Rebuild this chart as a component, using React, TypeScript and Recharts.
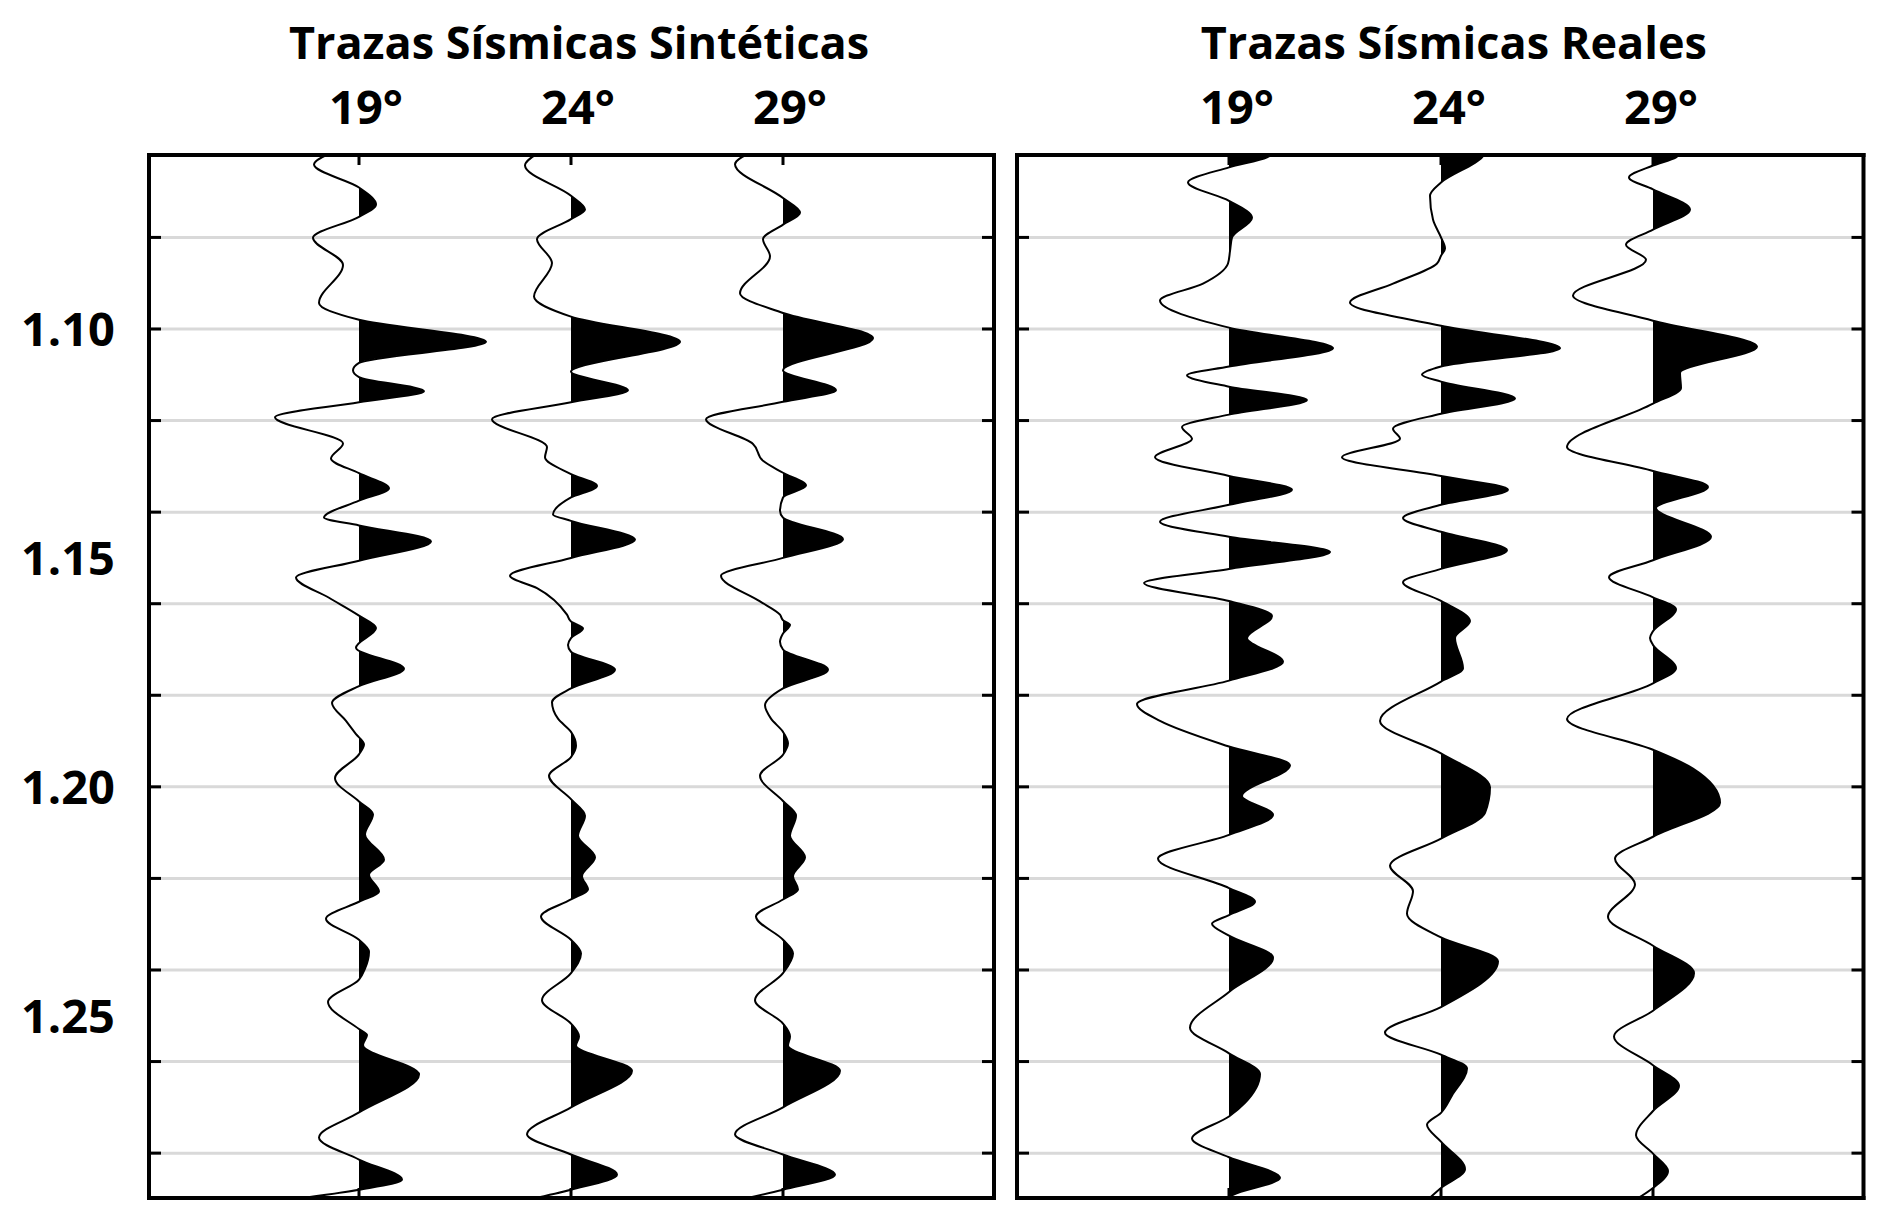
import React from 'react';
import { ComposedChart, Line, Area, XAxis, YAxis, CartesianGrid, ReferenceArea } from 'recharts';

type Pt = [number, number];

// time axis (s), grid every 20 ms
const timeDomain: [number, number] = [1.062, 1.2898];
const gridTimes = [1.08, 1.1, 1.12, 1.14, 1.16, 1.18, 1.2, 1.22, 1.24, 1.26, 1.28];
const timeLabels = [1.1, 1.15, 1.2, 1.25];
const leftAxisTicks = [1.08, 1.1, 1.12, 1.14, 1.15, 1.16, 1.18, 1.2, 1.22, 1.24, 1.25, 1.26, 1.28];
const angleLabels = ['19°', '24°', '29°'];

// [time, amplitude] (positive = right, filled)
const synth19: Pt[] = [
  [1.061, -0.22], [1.0641, -0.45], [1.0691, 0], [1.0728, 0.17], [1.0755, 0], [1.0801, -0.46],
  [1.086, -0.16], [1.0943, -0.4], [1.098, 0], [1.1028, 1.27], [1.1074, 0], [1.109, -0.06],
  [1.1105, 0], [1.1136, 0.65], [1.116, 0], [1.1193, -0.84], [1.125, -0.16], [1.1283, -0.28],
  [1.1315, 0], [1.1348, 0.3], [1.1375, 0], [1.1412, -0.35], [1.1429, 0], [1.1464, 0.72],
  [1.1506, 0], [1.1543, -0.63], [1.1587, -0.3], [1.1626, 0], [1.1653, 0.17], [1.1696, -0.03],
  [1.1742, 0.45], [1.178, 0], [1.1817, -0.27], [1.1856, -0.13], [1.1885, -0.03], [1.1907, 0.05],
  [1.1929, 0], [1.1981, -0.24], [1.2032, 0], [1.206, 0.14], [1.2104, 0.06], [1.2159, 0.25],
  [1.2192, 0.1], [1.2229, 0.2], [1.2251, 0], [1.2288, -0.33], [1.2334, 0], [1.236, 0.1],
  [1.2397, 0.06], [1.2421, 0], [1.247, -0.31], [1.2529, 0], [1.2542, 0.08], [1.2564, 0.04],
  [1.2628, 0.6], [1.2711, 0], [1.2766, -0.4], [1.2814, 0], [1.2858, 0.43], [1.288, 0],
  [1.2902, -0.7],
];
const synth24: Pt[] = [
  [1.0612, -0.3], [1.0643, -0.46], [1.0709, 0], [1.0739, 0.14], [1.076, 0], [1.0804, -0.34],
  [1.0856, -0.19], [1.0929, -0.37], [1.0973, 0], [1.1028, 1.09], [1.1093, 0], [1.1134, 0.57],
  [1.116, 0], [1.1197, -0.79], [1.1258, -0.24], [1.128, -0.26], [1.1317, 0], [1.1343, 0.26],
  [1.1368, 0], [1.1405, -0.18], [1.1419, 0], [1.146, 0.64], [1.15, 0], [1.1539, -0.61],
  [1.1566, -0.34], [1.1624, -0.04], [1.1639, 0], [1.1654, 0.12], [1.1675, 0], [1.169, -0.03],
  [1.1705, 0], [1.1744, 0.44], [1.1785, 0], [1.1815, -0.19], [1.1851, -0.13], [1.188, 0],
  [1.191, 0.05], [1.1935, 0], [1.1976, -0.22], [1.2027, 0], [1.2063, 0.14], [1.2107, 0.07],
  [1.2154, 0.24], [1.2195, 0.11], [1.2224, 0.17], [1.2246, 0], [1.2283, -0.3], [1.2334, 0],
  [1.2364, 0.1], [1.2407, 0], [1.2466, -0.29], [1.2517, 0], [1.2545, 0.08], [1.2565, 0.05],
  [1.262, 0.61], [1.27, 0], [1.2759, -0.44], [1.2803, 0], [1.2847, 0.46], [1.288, 0],
  [1.2905, -0.5],
];
const synth29: Pt[] = [
  [1.0612, -0.3], [1.064, -0.48], [1.0714, 0], [1.0746, 0.17], [1.0772, 0], [1.0804, -0.2],
  [1.0841, -0.13], [1.0922, -0.43], [1.0965, 0], [1.102, 0.9], [1.109, 0], [1.1134, 0.53],
  [1.1159, 0], [1.1197, -0.77], [1.1251, -0.3], [1.1288, -0.2], [1.1314, 0], [1.1342, 0.23],
  [1.1368, 0], [1.1397, -0.03], [1.1412, 0], [1.1459, 0.6], [1.15, 0], [1.1539, -0.62],
  [1.1595, -0.23], [1.1624, -0.03], [1.1636, 0], [1.1646, 0.07], [1.1665, 0], [1.1683, -0.03],
  [1.17, 0], [1.1744, 0.45], [1.1785, 0], [1.1822, -0.18], [1.1851, -0.12], [1.188, 0],
  [1.1905, 0.05], [1.193, 0], [1.1976, -0.23], [1.2031, 0], [1.2063, 0.13], [1.2107, 0.07],
  [1.2154, 0.22], [1.2195, 0.1], [1.2224, 0.15], [1.2246, 0], [1.2283, -0.27], [1.2334, 0],
  [1.2364, 0.1], [1.2407, 0], [1.2466, -0.28], [1.2517, 0], [1.2545, 0.07], [1.2565, 0.05],
  [1.262, 0.57], [1.27, 0], [1.2759, -0.48], [1.2803, 0], [1.2847, 0.52], [1.288, 0],
  [1.2905, -0.5],
];
const real19: Pt[] = [
  [1.0612, 0.45], [1.0625, 0.38], [1.0647, 0], [1.068, -0.41], [1.072, 0], [1.0757, 0.23],
  [1.08, 0.03], [1.083, 0.01], [1.0857, -0.01], [1.0901, -0.26], [1.0938, -0.69], [1.0997, 0],
  [1.1042, 1.04], [1.1082, 0], [1.1101, -0.42], [1.1126, 0], [1.1155, 0.78], [1.1187, 0],
  [1.1214, -0.47], [1.124, -0.37], [1.128, -0.74], [1.1321, 0], [1.1351, 0.63], [1.1384, 0],
  [1.1421, -0.69], [1.1454, 0], [1.1487, 1.01], [1.1524, 0], [1.1555, -0.85], [1.1594, 0],
  [1.1627, 0.43], [1.1675, 0.18], [1.1727, 0.54], [1.1768, 0], [1.1819, -0.92], [1.1856, -0.69],
  [1.1912, 0], [1.1953, 0.61], [1.202, 0.13], [1.2061, 0.44], [1.2105, 0], [1.2157, -0.71],
  [1.2221, 0], [1.2251, 0.26], [1.228, 0], [1.2299, -0.17], [1.2325, 0], [1.2373, 0.44],
  [1.2448, 0], [1.2526, -0.39], [1.2582, 0], [1.2627, 0.31], [1.269, 0.16], [1.272, 0],
  [1.2768, -0.37], [1.2809, 0], [1.2854, 0.51], [1.2891, 0.04], [1.2905, -0.05],
];
const real24: Pt[] = [
  [1.0612, 0.45], [1.0625, 0.41], [1.068, 0], [1.0709, -0.11], [1.0761, -0.08], [1.08, 0],
  [1.0824, 0.04], [1.084, 0], [1.0857, -0.04], [1.0901, -0.48], [1.0942, -0.91], [1.0993, 0],
  [1.1042, 1.19], [1.1082, 0], [1.11, -0.19], [1.1115, 0], [1.1152, 0.74], [1.1185, 0],
  [1.1218, -0.48], [1.124, -0.41], [1.128, -0.99], [1.1321, 0], [1.1351, 0.67], [1.1384, 0],
  [1.1413, -0.38], [1.1443, 0], [1.1483, 0.66], [1.1524, 0], [1.1553, -0.38], [1.1594, 0],
  [1.1638, 0.29], [1.1675, 0.14], [1.1741, 0.22], [1.177, 0], [1.1856, -0.61], [1.1927, 0],
  [1.2001, 0.49], [1.2057, 0.44], [1.2113, 0], [1.2172, -0.51], [1.2228, -0.28], [1.2277, -0.34],
  [1.2329, 0], [1.2381, 0.57], [1.2481, 0], [1.2537, -0.56], [1.2585, 0], [1.2615, 0.26],
  [1.2674, 0.11], [1.2712, 0], [1.2738, -0.14], [1.2775, 0], [1.2835, 0.24], [1.2876, 0],
  [1.2905, -0.15],
];
const real29: Pt[] = [
  [1.0612, 0.28], [1.0625, 0.23], [1.0643, 0], [1.0669, -0.24], [1.0695, 0], [1.0739, 0.37],
  [1.0783, 0], [1.0816, -0.27], [1.0849, -0.07], [1.0927, -0.8], [1.0982, 0], [1.1039, 1.04],
  [1.1096, 0.27], [1.1129, 0.28], [1.1163, 0], [1.1258, -0.86], [1.131, 0], [1.1345, 0.55],
  [1.1391, 0.03], [1.1454, 0.58], [1.1505, 0], [1.1542, -0.44], [1.1586, 0], [1.1612, 0.23],
  [1.166, 0], [1.1675, -0.03], [1.169, 0], [1.1741, 0.23], [1.1774, 0], [1.1852, -0.86],
  [1.1919, 0], [1.196, 0.4], [1.2035, 0.67], [1.2109, 0], [1.2157, -0.38], [1.2213, -0.18],
  [1.2284, -0.45], [1.2347, 0], [1.2407, 0.41], [1.2489, 0], [1.2545, -0.39], [1.2608, 0],
  [1.2653, 0.26], [1.2708, 0], [1.2761, -0.17], [1.2801, 0], [1.2839, 0.15], [1.2876, 0],
  [1.2905, -0.2],
];

const leftOffsets = [2.1, 4.22, 6.34];
const rightOffsets = [2.12, 4.24, 6.36];

const FONT = '"Open Sans", "DejaVu Sans", sans-serif';
const labelStyle = { fontSize: 47, fontWeight: 700, fill: '#000', fontFamily: FONT };
const frameLine = { stroke: '#000', strokeWidth: 4, strokeLinecap: 'square' as const };
const tickMark = { stroke: '#000', strokeWidth: 3 };
const blank = () => '';

// left axis of the first panel: inward tick at every grid time, label every 50 ms
function TimeTick(props: any) {
  const { x, y, payload } = props;
  const v = payload.value as number;
  return (
    <g>
      {gridTimes.includes(v) && <line x1={x} x2={x + 12} y1={y} y2={y} stroke="#000" strokeWidth={3} />}
      {timeLabels.includes(v) && (
        <text x={x - 34} y={y} dy="0.36em" textAnchor="end" fontSize={47} fontWeight={700} fill="#000" fontFamily={FONT}>
          {v.toFixed(2)}
        </text>
      )}
    </g>
  );
}

// clip region right of each trace's zero line so only positive lobes get filled
const makeClip = (id: string) => (p: any) => (
  <defs>
    <clipPath id={id}>
      <rect x={p.x} y={p.y - 10} width={p.width} height={p.height + 20} />
    </clipPath>
  </defs>
);

function buildTraces(prefix: string, traces: Pt[][], offsets: number[]) {
  return traces.map((tr, i) => {
    const id = `${prefix}-clip-${i}`;
    return {
      id,
      offset: offsets[i],
      shape: makeClip(id),
      rows: tr.map(([t, a]) => ({ t, v: offsets[i] + a })),
    };
  });
}

const leftTraces = buildTraces('syn', [synth19, synth24, synth29], leftOffsets);
const rightTraces = buildTraces('real', [real19, real24, real29], rightOffsets);

interface PanelProps {
  traces: ReturnType<typeof buildTraces>;
  offsets: number[];
  xMax: number;
  width: number;
  margin: { top: number; right: number; bottom: number; left: number };
  title: string;
  titleDx: number;
  tickDx: number;
  showTimeLabels: boolean;
}

function SeismicPanel({ traces, offsets, xMax, width, margin, title, titleDx, tickDx, showTimeLabels }: PanelProps) {
  const xDomain: [number, number] = [0, xMax];
  return (
    <ComposedChart layout="vertical" width={width} height={1224} margin={margin}>
      <CartesianGrid xAxisId="top" yAxisId="right" vertical={false} stroke="#d9d9d9" strokeWidth={3} />
      <XAxis
        xAxisId="top"
        orientation="top"
        type="number"
        domain={xDomain}
        allowDataOverflow
        height={96}
        ticks={offsets}
        interval={0}
        tickFormatter={(_: number, i: number) => angleLabels[i]}
        axisLine={frameLine}
        tickLine={tickMark}
        tickSize={-10}
        tickMargin={41}
        tick={{ ...labelStyle, dx: tickDx }}
        label={{ value: title, position: 'top', offset: 0, dx: titleDx, ...labelStyle, fontSize: 45 }}
      />
      <XAxis xAxisId="bottom" orientation="bottom" height={1} type="number" domain={xDomain} allowDataOverflow
        ticks={offsets} interval={0} tickSize={-10} tickLine={tickMark} axisLine={frameLine} tickFormatter={blank} />
      {showTimeLabels ? (
        <YAxis
          yAxisId="left"
          orientation="left"
          dataKey="t"
          type="number"
          domain={timeDomain}
          allowDataOverflow
          width={130}
          ticks={leftAxisTicks}
          interval={0}
          axisLine={frameLine}
          tickLine={false}
          tickSize={0}
          tickMargin={0}
          tick={TimeTick}
        />
      ) : (
        <YAxis yAxisId="left" orientation="left" width={1} dataKey="t" type="number" domain={timeDomain}
          allowDataOverflow ticks={gridTimes} interval={0} tickSize={-12} tickLine={tickMark} axisLine={frameLine} tickFormatter={blank} />
      )}
      <YAxis yAxisId="right" orientation="right" width={1} dataKey="t" type="number" domain={timeDomain}
        allowDataOverflow ticks={gridTimes} interval={0} tickSize={-12} tickLine={tickMark} axisLine={frameLine} tickFormatter={blank} />
      {traces.map((tr) => (
        <ReferenceArea key={tr.id} xAxisId="top" yAxisId="right" x1={tr.offset} x2={tr.offset + 1.9} shape={tr.shape} />
      ))}
      {traces.map((tr) => (
        <Area
          key={`a-${tr.id}`}
          xAxisId="top"
          yAxisId="right"
          data={tr.rows}
          dataKey="v"
          baseValue={tr.offset}
          type="monotone"
          stroke="none"
          fill="#000"
          fillOpacity={1}
          clipPath={`url(#${tr.id})`}
          isAnimationActive={false}
        />
      ))}
      {traces.map((tr) => (
        <Line
          key={`l-${tr.id}`}
          xAxisId="top"
          yAxisId="right"
          data={tr.rows}
          dataKey="v"
          type="monotone"
          stroke="#000"
          strokeWidth={2}
          dot={false}
          activeDot={false}
          isAnimationActive={false}
        />
      ))}
    </ComposedChart>
  );
}

export default function App() {
  return (
    <div style={{ position: 'absolute', left: 0, top: 0, width: 1892, height: 1224, background: '#fff' }}>
      <div style={{ position: 'absolute', left: 0, top: 0 }}>
        <SeismicPanel
          traces={leftTraces}
          offsets={leftOffsets}
          xMax={8.45}
          width={1005}
          margin={{ top: 59, right: 10, bottom: 25, left: 19 }}
          title="Trazas Sísmicas Sintéticas"
          titleDx={7.5}
          tickDx={7}
          showTimeLabels
        />
      </div>
      <div style={{ position: 'absolute', left: 1005, top: 0 }}>
        <SeismicPanel
          traces={rightTraces}
          offsets={rightOffsets}
          xMax={8.465}
          width={887}
          margin={{ top: 59, right: 27.5, bottom: 25, left: 11 }}
          title="Trazas Sísmicas Reales"
          titleDx={13.5}
          tickDx={8}
          showTimeLabels={false}
        />
      </div>
    </div>
  );
}
